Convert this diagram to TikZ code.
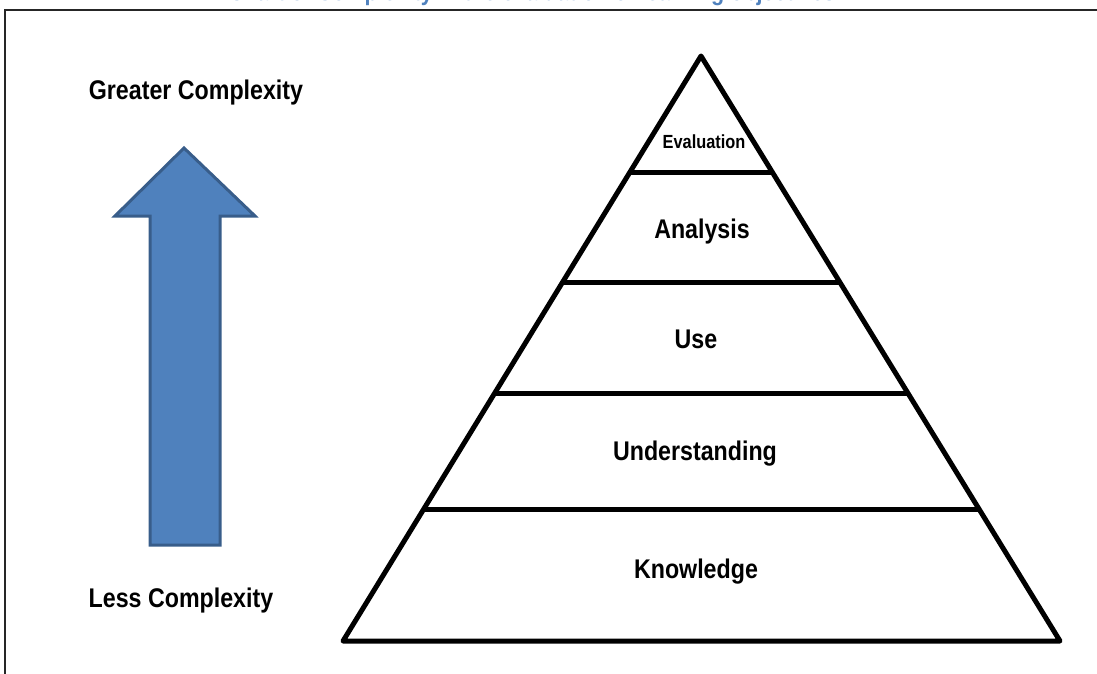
\documentclass[tikz,border=0pt]{standalone}
\usepackage{fontspec}
\setmainfont{Liberation Sans}[FakeStretch=0.86]
\usetikzlibrary{calc}
\definecolor{arrowfill}{HTML}{4F81BD}
\definecolor{arrowline}{HTML}{385D8A}
\definecolor{titleblue}{HTML}{4F81BD}
\begin{document}
\begin{tikzpicture}[x=1pt,y=-1pt,
  pyr/.style={line width=5pt,line join=round,line cap=round},
  lvl/.style={font=\bfseries\fontsize{27}{31}\selectfont},
  side/.style={font=\bfseries\fontsize{27}{31}\selectfont},
  frameline/.style={line width=2pt,black!85}]
\useasboundingbox (0,0) rectangle (1097,674);
\clip (0,0) rectangle (1097,674);
% title (cut at top)
\node[anchor=base,text=titleblue,font=\bfseries\fontsize{25}{28}\selectfont,inner sep=0] (title) at (532,1) {Chart of Complexity in the evaluation of learning objectives};
% frame
\coordinate (f1) at (5,680);
\coordinate (f2) at (5,10);
\coordinate (f3) at (1100,10);
\draw[frameline] (f1) -- (f2) -- (f3);
% arrow
\draw[fill=arrowfill,draw=arrowline,line width=3pt,line join=miter]
  (184,148) -- (255,216) -- (220,216) -- (220,545) -- (150,545) -- (150,216) -- (115,216) -- cycle;
\node[side] (greater) at (196,93) {Greater Complexity};
\node[side] (less) at (181,601) {Less Complexity};
% pyramid
\coordinate (apex) at (701,56);
\coordinate (bl) at (343,641);
\coordinate (br) at (1060,641);
\draw[pyr] (apex) -- (bl) -- (br) -- cycle;
\foreach \t/\n in {0.1983/a,0.3880/b,0.5761/c,0.7744/d}{
  \coordinate (L\n) at ($(apex)!\t!(bl)$);
  \coordinate (R\n) at ($(apex)!\t!(br)$);
  \draw[pyr,line cap=butt] (L\n) -- (R\n);
}
\node[font=\bfseries\fontsize{19}{22}\selectfont] (eval) at (704,142) {Evaluation};
\node[lvl] (ana) at (702,232) {Analysis};
\node[lvl] (use) at (696,339) {Use};
\node[lvl] (und) at (695,454) {Understanding};
\node[lvl] (know) at (696,572) {Knowledge};
\end{tikzpicture}
\end{document}
